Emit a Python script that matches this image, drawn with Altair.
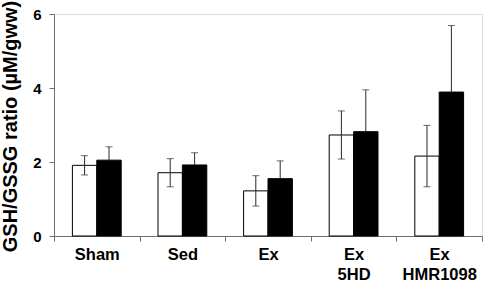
import altair as alt
import pandas as pd

categories = ["Sham", "Sed", "Ex", "Ex 5HD", "Ex HMR1098"]
white_vals = [1.91, 1.71, 1.22, 2.73, 2.16]
white_err = [0.26, 0.38, 0.41, 0.65, 0.83]
black_vals = [2.05, 1.92, 1.55, 2.82, 3.89]
black_err = [0.36, 0.33, 0.48, 1.13, 1.80]
groups = ["open", "filled"]

rows = []
for c, v, e in zip(categories, white_vals, white_err):
    rows.append({"cat": c, "grp": "open", "value": v, "lo": v - e, "hi": v + e})
for c, v, e in zip(categories, black_vals, black_err):
    rows.append({"cat": c, "grp": "filled", "value": v, "lo": v, "hi": v + e})
df = pd.DataFrame(rows)

FONT = "Liberation Sans"

x_enc = alt.X(
    "cat:N",
    sort=categories,
    scale=alt.Scale(paddingInner=0, paddingOuter=0),
    axis=alt.Axis(
        title=None,
        labelAngle=0,
        labelExpr="split(datum.label, ' ')",
        labelFont=FONT,
        labelFontSize=16.5,
        labelFontWeight="bold",
        labelColor="black",
        labelPadding=5,
        labelLineHeight=20,
        tickBand="extent",
        tickSize=5,
        tickColor="#707070",
        domainColor="#707070",
        grid=False,
    ),
)
xoff = alt.XOffset(
    "grp:N", sort=groups, scale=alt.Scale(domain=groups, paddingInner=0, paddingOuter=0.754)
)
y_scale = alt.Scale(domain=[0, 6], nice=False, zero=True)

bars = alt.Chart(df).mark_bar(stroke="black", strokeWidth=1).encode(
    x=x_enc,
    xOffset=xoff,
    y=alt.Y(
        "value:Q",
        scale=y_scale,
        axis=alt.Axis(
            values=[0, 2, 4, 6],
            title="GSH/GSSG ratio (µM/gww)",
            titleFont=FONT,
            titleFontSize=20,
            titleFontWeight="bold",
            titleColor="black",
            titleAngle=270,
            titleAlign="center",
            titleBaseline="alphabetic",
            titleX=-38,
            titleY=112,
            labelFont=FONT,
            labelFontSize=15,
            labelFontWeight="bold",
            labelColor="black",
            labelPadding=8,
            tickSize=5,
            tickColor="#707070",
            domainColor="#707070",
            grid=False,
        ),
    ),
    fill=alt.Fill("grp:N", scale=alt.Scale(domain=groups, range=["white", "black"]), legend=None),
)

err = alt.Chart(df).mark_rule(color="#2a2a2a", strokeWidth=1).encode(
    x=alt.X("cat:N", sort=categories),
    xOffset=xoff,
    y=alt.Y("lo:Q", scale=y_scale),
    y2="hi:Q",
)
cap_hi = alt.Chart(df).mark_tick(color="#2a2a2a", thickness=1, size=7).encode(
    x=alt.X("cat:N", sort=categories),
    xOffset=xoff,
    y=alt.Y("hi:Q", scale=y_scale),
)
cap_lo = alt.Chart(df).transform_filter(alt.datum.grp == "open").mark_tick(
    color="#2a2a2a", thickness=1, size=7
).encode(
    x=alt.X("cat:N", sort=categories),
    xOffset=xoff,
    y=alt.Y("lo:Q", scale=y_scale),
)

chart = alt.layer(bars, err, cap_hi, cap_lo).properties(
    width=428,
    height=222,
    autosize=alt.AutoSizeParams(type="none"),
    padding={"left": 54, "top": 14, "right": 3, "bottom": 47},
).configure_view(stroke=None).configure(background="white")

chart.save("out.html", embed_options={"renderer": "svg", "actions": False})
